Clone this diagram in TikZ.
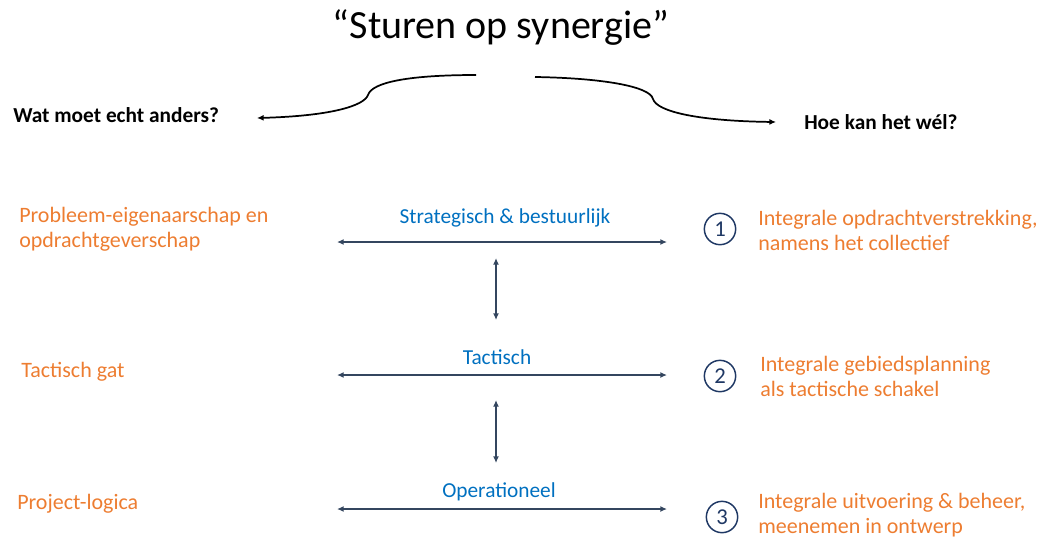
\documentclass[tikz,border=0pt]{standalone}
\usepackage{fontspec}
\setmainfont{Carlito}
\usetikzlibrary{arrows.meta}
\definecolor{orng}{RGB}{237,125,49}
\definecolor{blu}{RGB}{0,112,192}
\definecolor{navy}{RGB}{31,56,100}
\definecolor{slate}{RGB}{52,70,95}
\begin{document}
\begin{tikzpicture}[x=0.75pt,y=-0.75pt,
  orangetxt/.style={text=orng,font=\fontsize{16.5}{18.75}\selectfont,align=left,anchor=west,inner sep=0pt},
  bluetxt/.style={text=blu,font=\fontsize{16}{19}\selectfont,inner sep=0pt},
  boldq/.style={font=\bfseries\fontsize{16}{19}\selectfont,inner sep=0pt},
  link/.style={draw=slate,line width=1.1pt,{Latex[length=5pt,width=4.5pt]}-{Latex[length=5pt,width=4.5pt]}},
  brace/.style={draw=black,line width=1.3pt,-{Latex[length=5pt,width=4.5pt]}},
  numcirc/.style={circle,draw=navy,line width=1.1pt,minimum size=23.5pt,inner sep=0pt,text=navy,font=\fontsize{17}{19}\selectfont}
]
\useasboundingbox (0,0) rectangle (1042,537);

% title
\node[font=\fontsize{30}{34}\selectfont,inner sep=0pt] (title) at (501,28) {“Sturen op synergie”};

% brace arrows
\coordinate (bl0) at (476,75);
\coordinate (bl1) at (368,95);
\coordinate (bltip) at (257,118);
\coordinate (br0) at (535,77);
\coordinate (br1) at (653,99);
\coordinate (brtip) at (776,122);
\draw[brace] (bl0) .. controls (410,75) and (372,82) .. (bl1) .. controls (364,106) and (330,116) .. (bltip);
\draw[brace] (br0) .. controls (600,78) and (650,86) .. (br1) .. controls (657,112) and (700,121) .. (brtip);

\node[boldq,anchor=west] (wat) at (13,115) {Wat moet echt anders?};
\node[boldq,anchor=west] (hoe) at (804,122) {Hoe kan het wél?};

% left column
\node[orangetxt] (l1) at (19,229) {Probleem-eigenaarschap en\\opdrachtgeverschap};
\node[orangetxt] (l2) at (21,372) {Tactisch gat};
\node[orangetxt] (l3) at (17,504) {Project-logica};

% middle levels
\node[bluetxt] (m1) at (505,218) {Strategisch \& bestuurlijk};
\node[bluetxt] (m2) at (497,357) {Tactisch};
\node[bluetxt] (m3) at (499,492) {Operationeel};

\coordinate (h1a) at (337,242); \coordinate (h1b) at (667,242);
\coordinate (h2a) at (337,375); \coordinate (h2b) at (667,375);
\coordinate (h3a) at (337,509); \coordinate (h3b) at (667,509);
\draw[link] (h1a) -- (h1b);
\draw[link] (h2a) -- (h2b);
\draw[link] (h3a) -- (h3b);

\coordinate (v1a) at (496,258); \coordinate (v1b) at (496,320);
\coordinate (v2a) at (496,400); \coordinate (v2b) at (496,463);
\draw[link] (v1a) -- (v1b);
\draw[link] (v2a) -- (v2b);

% numbered circles
\node[numcirc] (c1) at (720,229) {1};
\node[numcirc] (c2) at (720,376) {2};
\node[numcirc] (c3) at (722,517) {3};

% right column
\node[orangetxt] (r1) at (758,230) {Integrale opdrachtverstrekking,\\namens het collectief};
\node[orangetxt] (r2) at (760,376) {Integrale gebiedsplanning\\als tactische schakel};
\node[orangetxt] (r3) at (758,515) {Integrale uitvoering \& beheer,\\meenemen in ontwerp};
\end{tikzpicture}
\end{document}
